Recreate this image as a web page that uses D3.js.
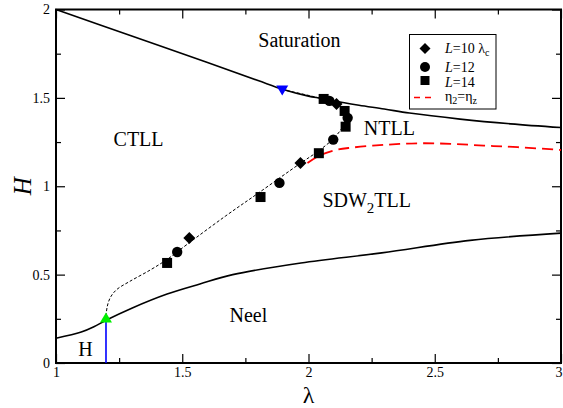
<!DOCTYPE html>
<html>
<head>
<meta charset="utf-8">
<script src="https://cdn.jsdelivr.net/npm/d3@7"></script>
<style>
  html, body { margin: 0; padding: 0; background: #fff; }
  svg { display: block; font-family: "Liberation Serif", "Times New Roman", serif; }
</style>
</head>
<body>
<svg id="chart" width="563" height="408"></svg>
<script>
// Phase boundaries in the (lambda, H) plane
const saturationLine = [[1.0,2.0],[1.3,1.85],[1.6,1.70],[1.8,1.598],[1.9,1.548],[2.0,1.510],[2.05,1.497],[2.1,1.482],[2.2,1.458],[2.3,1.437],[2.4,1.414],[2.6,1.380],[2.8,1.353],[3.0,1.332]];
const neelLine = [[1.0,0.14],[1.1,0.175],[1.15,0.205],[1.2,0.243],[1.3,0.31],[1.44,0.39],[1.57,0.447],[1.70,0.50],[1.97,0.566],[2.29,0.623],[2.64,0.694],[3.0,0.735]];
const criticalLine = [[1.198,0.265],[1.203,0.32],[1.215,0.37],[1.24,0.415],[1.29,0.46],[1.373,0.526],[1.444,0.59],[1.52,0.672],[1.67,0.83],[1.80,0.96],[1.968,1.13],[2.04,1.2],[2.099,1.27],[2.135,1.335],[2.152,1.39],[2.14,1.432],[2.111,1.462],[2.06,1.492],[1.901,1.545]];
const etaLine = [[1.996,1.132],[2.048,1.177],[2.107,1.205],[2.167,1.218],[2.298,1.234],[2.433,1.243],[2.563,1.24],[2.694,1.23],[2.829,1.221],[3.0,1.205]];

// Finite-size critical points
const pointsL10 = [[1.528,0.707],[1.968,1.132],[2.111,1.466]];
const pointsL12 = [[1.48,0.628],[1.885,1.019],[2.098,1.264],[2.155,1.387],[2.083,1.483]];
const pointsL14 = [[1.44,0.566],[1.81,0.939],[2.041,1.187],[2.147,1.337],[2.143,1.426],[2.06,1.494]];

// Special points
const lowerPoint = [1.198, 0.255];
const upperPoint = [1.896, 1.545];
const haldaneEdge = [[1.198, 0], [1.198, 0.25]];

// Axis ticks
const xMajor = [1, 1.5, 2, 2.5, 3];
const xMinor = [1.25, 1.75, 2.25, 2.75];
const yMajor = [0, 0.5, 1, 1.5, 2];
const yMinor = [0.25, 0.75, 1.25, 1.75];

// Region labels
const regionLabels = [
  { text: "Saturation", x: 1.964, y: 1.79 },
  { text: "CTLL", x: 1.327, y: 1.23 },
  { text: "NTLL", x: 2.32, y: 1.29 },
  { text: "Neel", x: 1.762, y: 0.234 },
  { text: "H", x: 1.117, y: 0.04 }
];

const svg = d3.select("#chart");
const padL = 56, padR = 561, padT = 9.5, padB = 363;
const x = d3.scaleLinear().domain([1, 3]).range([padL, padR]);
const y = d3.scaleLinear().domain([0, 2]).range([padB, padT]);

const fmt = d => (d === Math.round(d) ? d3.format("d")(d) : d3.format(".1f")(d));

// Axes: ticks point into the plot on all four sides
function styleAxis(g) {
  g.select(".domain").remove();
  g.selectAll("line").attr("stroke", "#000").attr("stroke-width", 1.2);
  g.selectAll("text").attr("font-size", 14).attr("fill", "#000")
    .attr("font-family", "Liberation Serif, serif");
}
const xAxisG = svg.append("g").attr("transform", `translate(0,${padB})`)
  .call(d3.axisBottom(x).tickValues(xMajor).tickFormat(fmt).tickSize(-9).tickPadding(4)).call(styleAxis);
// keep the last label inside the page edge
xAxisG.selectAll(".tick text").filter(d => d === 3).attr("dx", -2.5);
svg.append("g").attr("transform", `translate(0,${padB})`)
  .call(d3.axisBottom(x).tickValues(xMinor).tickFormat("").tickSize(-5)).call(styleAxis);
svg.append("g").attr("transform", `translate(0,${padT})`)
  .call(d3.axisTop(x).tickValues(xMajor).tickFormat("").tickSize(-9)).call(styleAxis);
svg.append("g").attr("transform", `translate(0,${padT})`)
  .call(d3.axisTop(x).tickValues(xMinor).tickFormat("").tickSize(-5)).call(styleAxis);
svg.append("g").attr("transform", `translate(${padL},0)`)
  .call(d3.axisLeft(y).tickValues(yMajor).tickFormat(fmt).tickSize(-9).tickPadding(6)).call(styleAxis);
svg.append("g").attr("transform", `translate(${padL},0)`)
  .call(d3.axisLeft(y).tickValues(yMinor).tickFormat("").tickSize(-5)).call(styleAxis);
svg.append("g").attr("transform", `translate(${padR},0)`)
  .call(d3.axisRight(y).tickValues(yMajor).tickFormat("").tickSize(-9)).call(styleAxis);
svg.append("g").attr("transform", `translate(${padR},0)`)
  .call(d3.axisRight(y).tickValues(yMinor).tickFormat("").tickSize(-5)).call(styleAxis);

// Frame
svg.append("rect").attr("x", padL).attr("y", padT)
  .attr("width", padR - padL).attr("height", padB - padT)
  .attr("fill", "none").attr("stroke", "#000").attr("stroke-width", 2);

const line = d3.line().x(d => x(d[0])).y(d => y(d[1]));
const smooth = d3.line().x(d => x(d[0])).y(d => y(d[1])).curve(d3.curveCatmullRom.alpha(0.5));

// Boundaries
svg.append("path").datum(saturationLine).attr("d", smooth)
  .attr("fill", "none").attr("stroke", "#000").attr("stroke-width", 1.6);
svg.append("path").datum(neelLine).attr("d", smooth)
  .attr("fill", "none").attr("stroke", "#000").attr("stroke-width", 1.6);
svg.append("path").datum(criticalLine).attr("d", smooth)
  .attr("fill", "none").attr("stroke", "#000").attr("stroke-width", 1)
  .attr("stroke-dasharray", "3,2");
svg.append("path").datum(etaLine).attr("d", smooth)
  .attr("fill", "none").attr("stroke", "#ff0000").attr("stroke-width", 1.8)
  .attr("stroke-dasharray", "11,6");
svg.append("path").datum(haldaneEdge).attr("d", line)
  .attr("fill", "none").attr("stroke", "#0000ff").attr("stroke-width", 1.6);

// Marker shapes
const diamond = (cx, cy, r) => `M${cx},${cy - r}L${cx + r},${cy}L${cx},${cy + r}L${cx - r},${cy}Z`;
const square = (cx, cy, s) => `M${cx - s / 2},${cy - s / 2}h${s}v${s}h${-s}Z`;

svg.append("g").selectAll("path").data(pointsL14).join("path")
  .attr("d", d => square(x(d[0]), y(d[1]), 10)).attr("fill", "#000");
svg.append("g").selectAll("circle").data(pointsL12).join("circle")
  .attr("cx", d => x(d[0])).attr("cy", d => y(d[1])).attr("r", 5.2).attr("fill", "#000");
svg.append("g").selectAll("path").data(pointsL10).join("path")
  .attr("d", d => diamond(x(d[0]), y(d[1]), 6)).attr("fill", "#000");

// Triangles at the end points of the critical line
{
  const cx = x(lowerPoint[0]), cy = y(lowerPoint[1]);
  svg.append("path").attr("d", `M${cx},${cy - 5.5}L${cx + 6},${cy + 4.5}L${cx - 6},${cy + 4.5}Z`)
    .attr("fill", "#00ee00");
}
{
  const cx = x(upperPoint[0]), cy = y(upperPoint[1]);
  svg.append("path").attr("d", `M${cx - 6},${cy - 4.5}L${cx + 6},${cy - 4.5}L${cx},${cy + 5.5}Z`)
    .attr("fill", "#0000ff");
}

// Region labels
svg.append("g").selectAll("text").data(regionLabels).join("text")
  .attr("x", d => x(d.x)).attr("y", d => y(d.y))
  .attr("text-anchor", "middle").attr("font-size", 20).attr("fill", "#000")
  .text(d => d.text);
{
  const t = svg.append("text").attr("x", x(2.055)).attr("y", y(0.88))
    .attr("font-size", 20).attr("fill", "#000");
  t.append("tspan").text("SDW");
  t.append("tspan").attr("dy", 6).attr("font-size", 15).text("2");
  t.append("tspan").attr("dy", -6).text("TLL");
}

// Axis titles
svg.append("text").attr("x", x(2)).attr("y", 402.5).attr("text-anchor", "middle")
  .attr("font-size", 24).attr("fill", "#000").text("λ");
svg.append("text").attr("transform", `translate(31,${y(1)}) rotate(-90)`)
  .attr("text-anchor", "middle").attr("font-size", 25).attr("font-style", "italic")
  .attr("fill", "#000").text("H");

// Legend
const lg = svg.append("g");
lg.append("rect").attr("x", 409.5).attr("y", 34.5).attr("width", 86.5).attr("height", 74.5)
  .attr("fill", "#fff").attr("stroke", "#000").attr("stroke-width", 1);
const lx = 425, tx = 445;
lg.append("path").attr("d", diamond(lx, 48.5, 5.5)).attr("fill", "#000");
lg.append("circle").attr("cx", lx).attr("cy", 67).attr("r", 5).attr("fill", "#000");
lg.append("path").attr("d", square(lx, 80.5, 9)).attr("fill", "#000");
lg.append("line").attr("x1", 414).attr("x2", 434).attr("y1", 97.5).attr("y2", 97.5)
  .attr("stroke", "#ff0000").attr("stroke-width", 1.6).attr("stroke-dasharray", "6,5");
const lt = (yy) => lg.append("text").attr("x", tx).attr("y", yy).attr("font-size", 14).attr("fill", "#000");
{
  const t = lt(53);
  t.append("tspan").attr("font-style", "italic").text("L");
  t.append("tspan").text("=10 λ");
  t.append("tspan").attr("dy", 3).attr("font-size", 10).text("c");
}
{
  const t = lt(72);
  t.append("tspan").attr("font-style", "italic").text("L");
  t.append("tspan").text("=12");
}
{
  const t = lt(86.5);
  t.append("tspan").attr("font-style", "italic").text("L");
  t.append("tspan").text("=14");
}
{
  const t = lt(101);
  t.append("tspan").text("η");
  t.append("tspan").attr("dy", 3).attr("font-size", 10).text("2");
  t.append("tspan").attr("dy", -3).text("=η");
  t.append("tspan").attr("dy", 3).attr("font-size", 10).text("z");
}
</script>
</body>
</html>
